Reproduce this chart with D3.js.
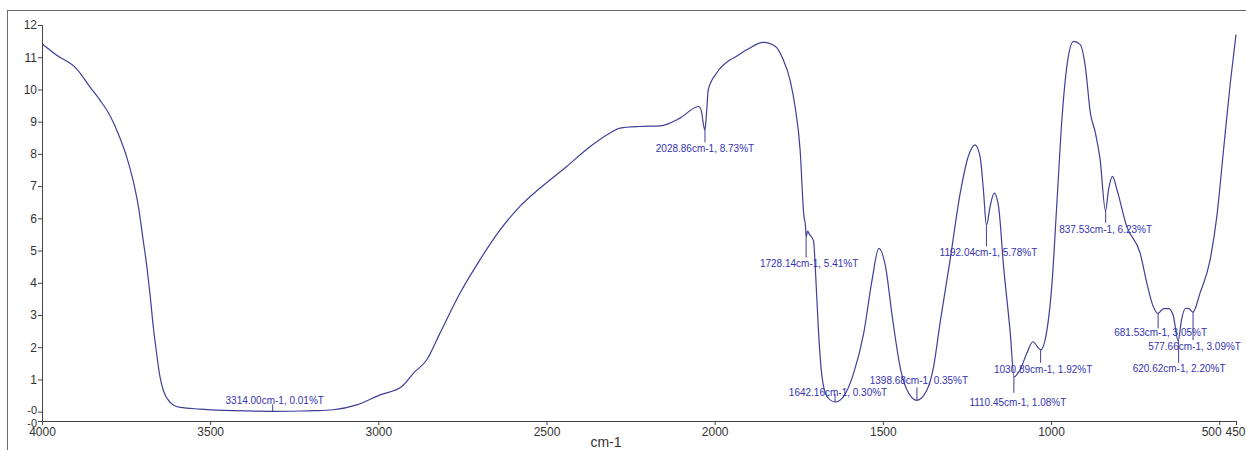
<!DOCTYPE html>
<html>
<head>
<meta charset="utf-8">
<script src="https://cdn.jsdelivr.net/npm/d3@7"></script>
<style>
  body { margin: 0; background: #fff; }
  text { font-family: "Liberation Sans", Arial, sans-serif; }
</style>
</head>
<body>
<div class="chart"></div>
<script>
var wi = 1246;
var he = 450;

// spectrum (cm-1, %T)
var wavenumbers = [4000, 3956, 3897, 3857, 3827, 3798, 3773, 3748, 3728, 3713, 3699, 3688, 3679, 3669, 3659, 3649, 3639, 3619, 3589, 3530, 3432, 3314, 3233, 3193, 3134, 3064, 2995, 2930, 2896, 2856, 2817, 2757, 2698, 2638, 2579, 2519, 2440, 2370, 2311, 2281, 2222, 2162, 2103, 2048, 2040, 2034, 2029, 2024, 2019, 1994, 1954, 1940, 1905, 1855, 1820, 1796, 1776, 1761, 1746, 1735, 1730, 1728, 1724, 1718, 1706, 1701, 1691, 1681, 1666, 1642, 1617, 1587, 1557, 1532, 1512, 1492, 1472, 1447, 1423, 1399, 1369, 1349, 1330, 1300, 1270, 1246, 1226, 1211, 1201, 1192, 1181, 1169, 1156, 1141, 1121, 1110, 1092, 1072, 1054, 1031, 1012, 997, 982, 967, 953, 933, 913, 898, 883, 868, 854, 838, 829, 817, 804, 775, 735, 715, 696, 682, 665, 650, 637, 622, 612, 600, 590, 578, 557, 527, 507, 487, 467, 450];
var transmittance = [11.42, 11.06, 10.64, 10.07, 9.66, 9.19, 8.62, 7.90, 7.12, 6.34, 5.31, 4.48, 3.66, 2.62, 1.79, 1.07, 0.65, 0.29, 0.13, 0.08, 0.03, 0.01, 0.02, 0.03, 0.06, 0.21, 0.52, 0.78, 1.19, 1.61, 2.43, 3.68, 4.71, 5.64, 6.37, 6.94, 7.61, 8.23, 8.65, 8.80, 8.85, 8.87, 9.11, 9.47, 9.35, 8.95, 8.73, 9.30, 9.99, 10.51, 10.92, 11.00, 11.23, 11.46, 11.34, 10.92, 10.30, 9.47, 8.13, 6.10, 5.75, 5.41, 5.60, 5.50, 5.30, 4.50, 2.43, 1.09, 0.47, 0.30, 0.47, 1.19, 2.43, 4.09, 5.07, 4.50, 2.95, 1.30, 0.57, 0.35, 0.67, 1.40, 2.75, 4.71, 6.78, 7.92, 8.28, 7.92, 6.88, 5.78, 6.37, 6.78, 6.37, 4.50, 2.43, 1.08, 1.30, 1.81, 2.17, 1.92, 2.54, 3.99, 6.57, 9.16, 10.71, 11.49, 11.39, 10.71, 9.27, 8.65, 7.82, 6.23, 6.89, 7.30, 6.89, 5.75, 4.92, 3.99, 3.26, 3.05, 3.20, 3.20, 3.00, 2.20, 2.85, 3.21, 3.20, 3.09, 3.68, 4.71, 6.06, 8.13, 10.20, 11.70];

// labelled peaks
var peakWn = [3314.00, 2028.86, 1728.14, 1642.16, 1398.68, 1192.04, 1110.45, 1030.89, 837.53, 681.53, 577.66, 620.62];
var peakT = [0.01, 8.73, 5.41, 0.30, 0.35, 5.78, 1.08, 1.92, 6.23, 3.05, 3.09, 2.20];

var xTicks = [4000, 3500, 3000, 2500, 2000, 1500, 1000, 500, 450];
var yMin = -0.29;
var yTicks = [yMin, 0, 1, 2, 3, 4, 5, 6, 7, 8, 9, 10, 11, 12];

// where each peak label sits relative to its point: [line dy, text dx, text dy]
var labelPlace = [[-7, 2, -7], [12, 0, 22], [20, 3, 30], [-8, 3, -5.5], [-13, 2, -16], [21, 2, 31], [16, 4, 29.6], [13, 2.5, 23.6], [12, 0, 22.4], [15, 2.5, 23], [28, 1.5, 38.3], [22, 0.5, 31.6]];

var spectrum = wavenumbers.map(function(w, i) { return { wn: w, t: transmittance[i] }; });

var svg = d3.select(".chart")
  .append("svg")
  .attr("width", wi)
  .attr("height", he);

// window frame
svg.append("rect")
  .attr("x", 7.5)
  .attr("y", 10.5)
  .attr("width", 1300)
  .attr("height", 500)
  .attr("fill", "none")
  .attr("stroke", "#6a6a6a");

var xScale = d3.scaleLinear()
  .domain([4000, 450])
  .range([42, 1236]);
var yScale = d3.scaleLinear()
  .domain([yMin, 12])
  .range([421, 25]);

var xAxis = d3.axisBottom(xScale)
  .tickValues(xTicks)
  .tickSizeOuter(0)
  .tickSize(4)
  .tickPadding(2)
  .tickFormat(d3.format("d"));
var yAxis = d3.axisLeft(yScale)
  .tickValues(yTicks)
  .tickSizeOuter(0)
  .tickSize(4)
  .tickPadding(1)
  .tickFormat(function(d) { return d <= 0 ? "-0" : d; });

var gx = svg.append("g")
  .attr("transform", "translate(0," + yScale(yMin) + ")")
  .call(xAxis);
var gy = svg.append("g")
  .attr("transform", "translate(" + xScale(4000) + ",0)")
  .call(yAxis);

[gx, gy].forEach(function(g) {
  g.selectAll("path, line").attr("stroke", "#444");
  g.selectAll("text")
    .attr("fill", "#333")
    .style("font-size", "12px");
});

// 500 and 450 sit close together, nudge them apart
gx.selectAll(".tick text")
  .attr("dx", function(d) { return d == 500 ? -8 : (d == 450 ? -1 : 0); });
gy.selectAll(".tick text")
  .style("font-size", function(d) { return d <= 0 ? "11px" : "12px"; })
  .attr("dy", function(d) { return d == yMin ? "0.5em" : (d == 0 ? "0.15em" : "0.32em"); });

svg.append("text")
  .attr("x", 606)
  .attr("y", 447)
  .attr("text-anchor", "middle")
  .attr("fill", "#333")
  .style("font-size", "14px")
  .text("cm-1");

var line = d3.line()
  .x(function(d) { return xScale(d.wn); })
  .y(function(d) { return yScale(d.t); })
  .curve(d3.curveMonotoneX);

svg.append("path")
  .datum(spectrum)
  .attr("d", line)
  .attr("fill", "none")
  .attr("stroke", "#3f3f97")
  .attr("stroke-width", 1.2);

// peak markers and labels
var peaks = svg.append("g");
peakWn.forEach(function(w, i) {
  var px = xScale(w);
  var py = yScale(peakT[i]);
  var p = labelPlace[i];
  peaks.append("line")
    .attr("x1", px)
    .attr("x2", px)
    .attr("y1", py)
    .attr("y2", py + p[0])
    .attr("stroke", "#3f3f97")
    .attr("stroke-width", 1);
  peaks.append("text")
    .attr("x", px + p[1])
    .attr("y", py + p[2])
    .attr("text-anchor", "middle")
    .attr("fill", "#3434b0")
    .style("font-size", "10px")
    .text(w.toFixed(2) + "cm-1, " + peakT[i].toFixed(2) + "%T");
});
</script>
</body>
</html>
